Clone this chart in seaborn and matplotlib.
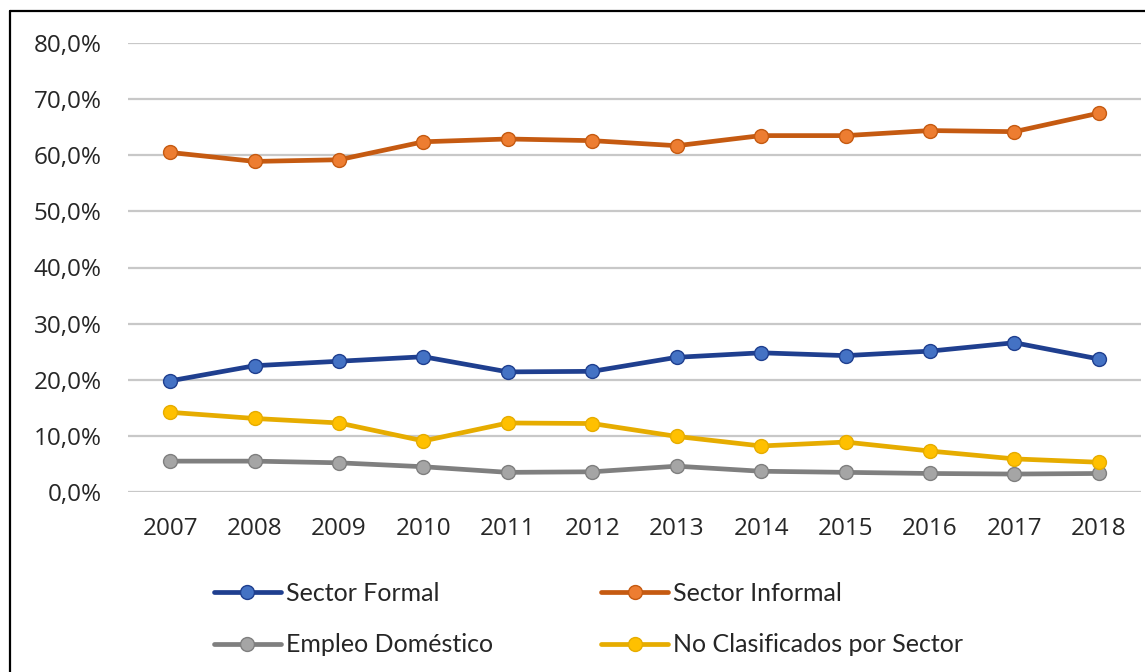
import numpy as np
import pandas as pd
import matplotlib.pyplot as plt
import matplotlib.lines as mlines
import seaborn as sns

sns.set_style('white')
plt.rcParams['font.family'] = ['Open Sans', 'DejaVu Sans']

# Data (% of employment)
years = ['2007', '2008', '2009', '2010', '2011', '2012',
         '2013', '2014', '2015', '2016', '2017', '2018']
formal = [19.8, 22.5, 23.3, 24.1, 21.4, 21.5, 24.0, 24.8, 24.3, 25.1, 26.6, 23.7]
informal = [60.5, 58.9, 59.2, 62.4, 62.9, 62.6, 61.7, 63.5, 63.5, 64.4, 64.2, 67.5]
domestico = [5.5, 5.5, 5.2, 4.5, 3.5, 3.6, 4.6, 3.7, 3.5, 3.3, 3.2, 3.3]
no_clasif = [14.2, 13.1, 12.3, 9.1, 12.3, 12.2, 9.9, 8.2, 8.9, 7.3, 5.9, 5.3]

series = ['Sector Formal', 'Sector Informal', 'Empleo Doméstico',
          'No Clasificados por Sector']
values = [formal, informal, domestico, no_clasif]
line_colors = ['#1f3f8f', '#c55a11', '#7f7f7f', '#e6ac00']
face_colors = ['#4472c4', '#ed7d31', '#a5a5a5', '#ffc000']

df = pd.DataFrame({
    'year': np.tile(np.arange(len(years)), len(series)),
    'value': np.concatenate(values),
    'serie': np.repeat(series, len(years)),
})

fig = plt.figure(figsize=(11.45, 6.72), dpi=100)
ax = fig.add_axes([128 / 1145, 1 - 492 / 672, (1141 - 128) / 1145, (492 - 43) / 672])

handles = {}
for name, lc, fc in zip(series, line_colors, face_colors):
    sub = df[df['serie'] == name]
    sns.lineplot(data=sub, x='year', y='value', ax=ax, color=lc, linewidth=3.4,
                 marker='o', markersize=10, markerfacecolor=fc,
                 markeredgecolor=lc, markeredgewidth=1.0, zorder=3)
    handles[name] = mlines.Line2D([], [], color=lc, linewidth=3.4, marker='o',
                                  markersize=10, markerfacecolor=fc,
                                  markeredgecolor=lc, markeredgewidth=1.0)

ax.set_xlim(-0.5, len(years) - 0.5)
ax.set_ylim(0, 80)
ax.set_xticks(range(len(years)))
ax.set_xticklabels(years)
yt = np.arange(0, 81, 10)
ax.set_yticks(yt)
ax.set_yticklabels([f'{v:.1f}%'.replace('.', ',') for v in yt])
ax.tick_params(axis='both', length=0, labelsize=17.5, colors='#262626')
ax.tick_params(axis='y', pad=19)
ax.tick_params(axis='x', pad=18)
ax.set_xlabel('')
ax.set_ylabel('')
ax.grid(axis='y', color='#c8c8c8', linewidth=1.6)
ax.set_axisbelow(True)
for s in ax.spines.values():
    s.set_visible(False)

order = ['Sector Formal', 'Empleo Doméstico', 'Sector Informal',
         'No Clasificados por Sector']
fig.legend([handles[n] for n in order], order, ncol=2, loc='center',
           bbox_to_anchor=(0.514, 0.079), frameon=False,
           prop={'family': 'Lato', 'size': 18}, handlelength=2.7,
           handletextpad=0.2, columnspacing=4.3, labelspacing=1.15)

# outer black frame (top and left edges visible in the reference)
fig.add_artist(mlines.Line2D([10.5 / 1145, 1], [1 - 10.5 / 672, 1 - 10.5 / 672],
                             color='black', linewidth=1.6, transform=fig.transFigure))
fig.add_artist(mlines.Line2D([10.5 / 1145, 10.5 / 1145], [0, 1 - 10.5 / 672],
                             color='black', linewidth=1.6, transform=fig.transFigure))

fig.savefig('out.png', dpi=100)
plt.close(fig)
